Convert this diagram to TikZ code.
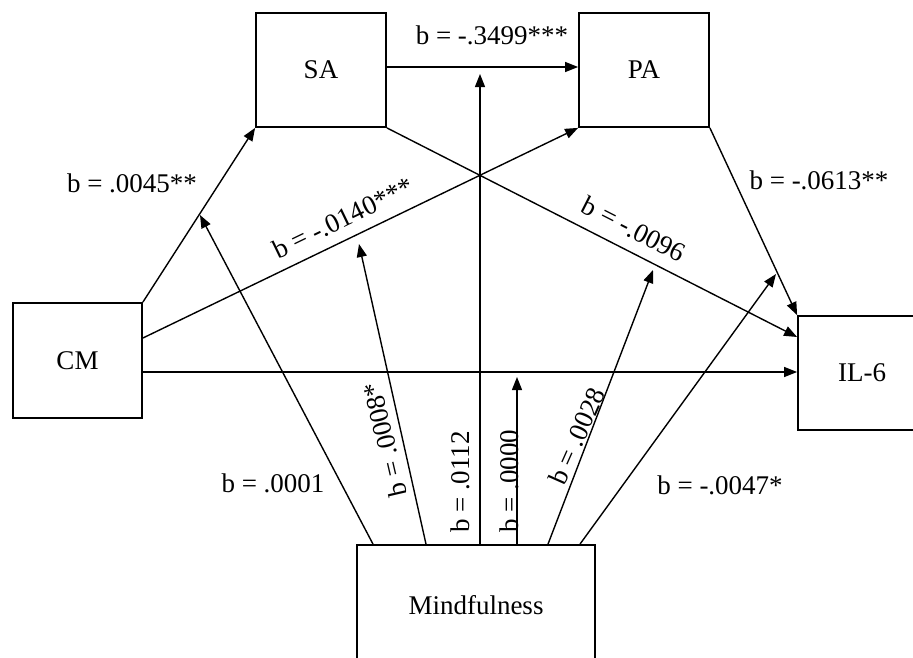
\documentclass[tikz,border=0pt]{standalone}
\usepackage{fontspec}
\setmainfont{Liberation Serif}
\usetikzlibrary{arrows.meta}
\begin{document}
\begin{tikzpicture}[x=1pt,y=-1pt,
  box/.style={draw, line width=1.8pt, inner sep=0pt, font=\fontsize{27}{30}\selectfont},
  lab/.style={inner sep=0pt, font=\fontsize{27}{30}\selectfont},
  conn/.style={line width=1.4pt, -{Triangle[length=13pt,width=10pt]}}]
\useasboundingbox (0,0) rectangle (913,657);
\clip (0,0) rectangle (913,657);
\fill[white] (0,0) rectangle (913,657);

% boxes
\node[box, minimum width=130pt, minimum height=114pt] (SA) at (321,70) {SA};
\node[box, minimum width=130pt, minimum height=114pt] (PA) at (644,70) {PA};
\node[box, minimum width=129pt, minimum height=115pt] (CM) at (77.5,360.5) {CM};
\node[box, minimum width=128pt, minimum height=114pt] (IL) at (862,373) {IL-6};
\node[box, minimum width=238pt, minimum height=120pt] (M) at (476,605) {Mindfulness};

% named points
\coordinate (CMa) at ([yshift=22.5pt]CM.east);
\coordinate (CMb) at ([yshift=-11.5pt]CM.east);
\coordinate (SAr) at ([yshift=3pt]SA.east);
\coordinate (ILa) at ([yshift=36pt]IL.west);

% main paths
\draw[conn] (CM.north east) -- (SA.south west);
\draw[conn] (CMa) -- (PA.south west);
\draw[conn] (CMb) -- (CMb -| IL.west);
\draw[conn] (SAr) -- (SAr -| PA.west);
\draw[conn] (SA.south east) -- (ILa);
\draw[conn] (PA.south east) -- (IL.north west);

% moderator targets
\coordinate (t1) at (200,215);
\coordinate (t2) at (359,244);
\coordinate (t3) at (480,74);
\coordinate (t4) at (517,377);
\coordinate (t5) at (653,270);
\coordinate (t6) at (776,274);

\draw[conn] ([xshift=-103pt]M.north) -- (t1);
\draw[conn] ([xshift=-50pt]M.north) -- (t2);
\draw[conn] ([xshift=4pt]M.north) -- (t3);
\draw[conn] ([xshift=41pt]M.north) -- (t4);
\draw[conn] ([xshift=72pt]M.north) -- (t5);
\draw[conn] ([xshift=104pt]M.north) -- (t6);

% labels
\node[lab] (l1) at (132,183) {b = .0045**};
\node[lab, rotate=25.8] (l2) at (343,218) {b = -.0140***};
\node[lab] (l3) at (492,35) {b = -.3499***};
\node[lab, rotate=-27] (l4) at (634,229) {b = -.0096};
\node[lab] (l5) at (819,180) {b = -.0613**};
\node[lab] (l6) at (273,483) {b = .0001};
\node[lab, rotate=103] (l7) at (385,440) {b = .0008*};
\node[lab, rotate=90] (l8) at (460,482) {b = .0112};
\node[lab, rotate=90] (l9) at (509,481) {b = .0000};
\node[lab, rotate=66] (l10) at (577,436) {b = .0028};
\node[lab] (l11) at (720,485) {b = -.0047*};
\end{tikzpicture}
\end{document}
